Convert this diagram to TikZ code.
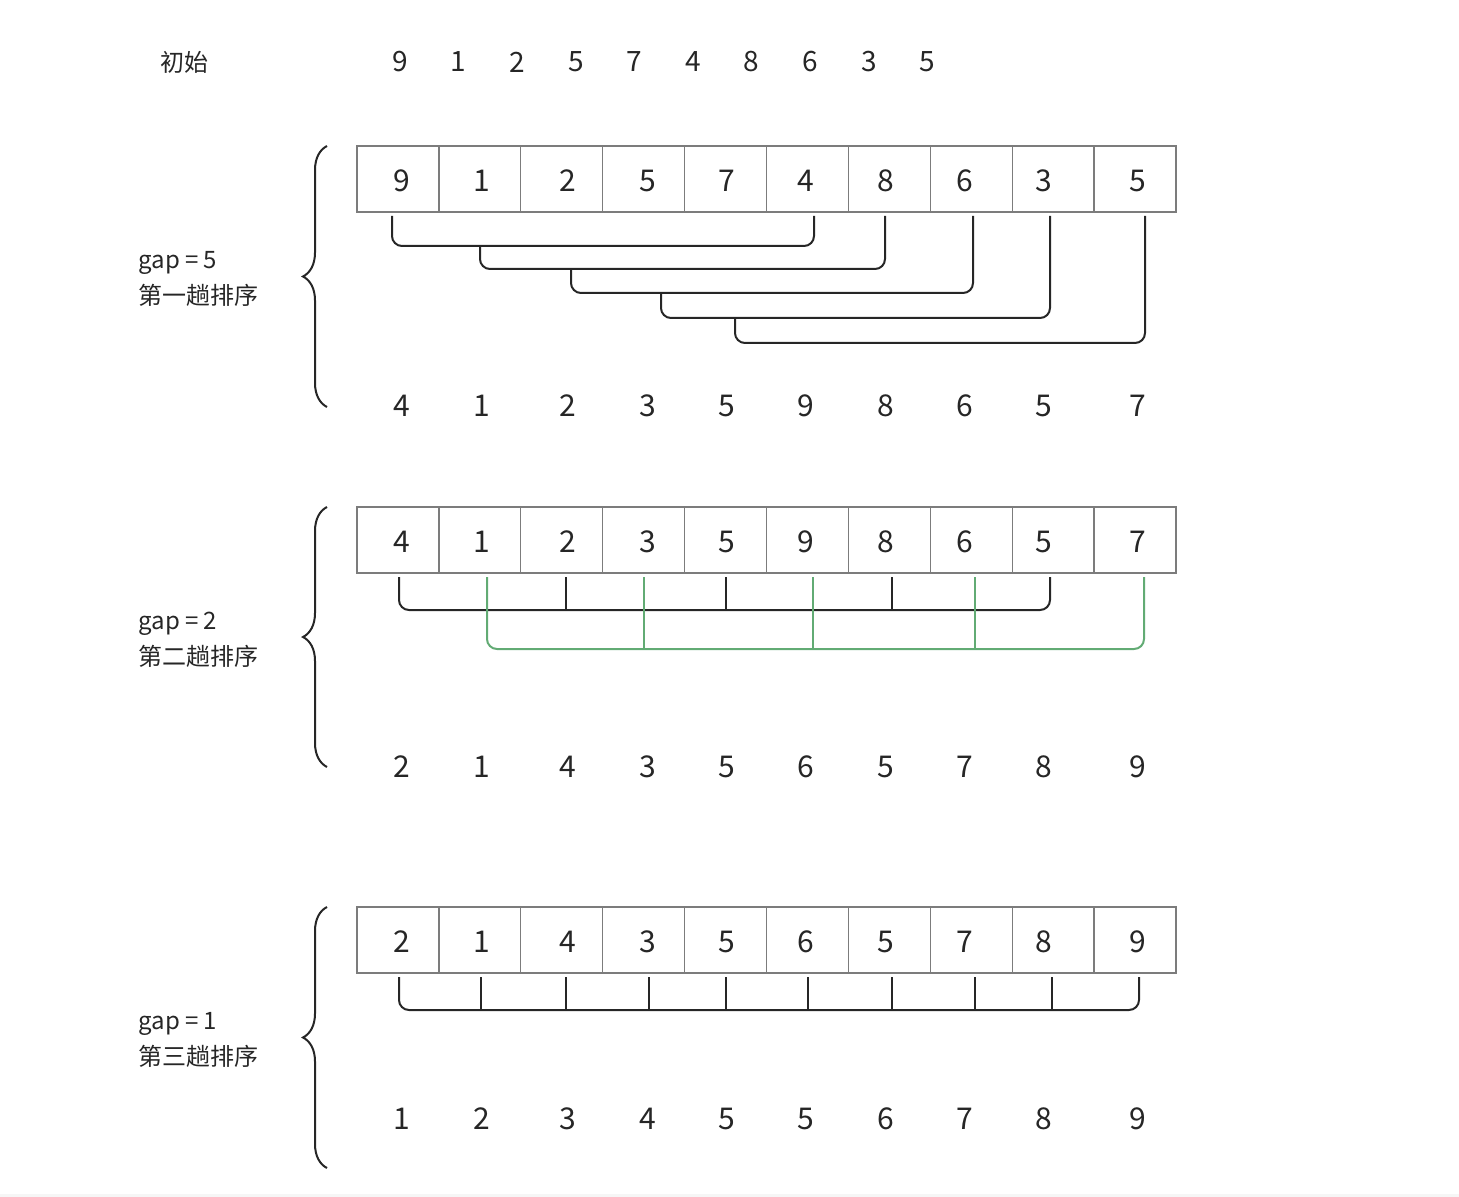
\documentclass[tikz,border=0pt]{standalone}
\usepackage{fontspec}
\setmainfont{Noto Sans CJK SC}
\usepackage{tikz}
\usetikzlibrary{decorations.pathreplacing,calc}
\definecolor{boxcol}{HTML}{7C7C7C}
\definecolor{inkcol}{HTML}{262626}
\definecolor{grncol}{HTML}{62AB74}
\definecolor{edgecol}{HTML}{F6F6F6}

\begin{document}
\begin{tikzpicture}[x=0.5pt,y=-0.5pt,
  cell/.style={draw=boxcol,line width=0.65pt},
  num/.style={font=\fontsize{15}{18}\selectfont,text=inkcol,inner sep=0pt},
  lbl/.style={font=\fontsize{12}{15}\selectfont,text=inkcol,anchor=west,inner sep=0pt},
  link/.style={draw=inkcol,line width=1pt,rounded corners=5pt},
  glink/.style={draw=grncol,line width=1pt,rounded corners=5pt},
  brc/.style={draw=inkcol,line width=1pt,decorate,decoration={brace,amplitude=12pt}}]
  \useasboundingbox (0,0) rectangle (1459,1197);
  \fill[edgecol] (0,1194) rectangle (1459,1197);

  % start row
  \node[lbl] (init) at (160,62) {初始};
  \foreach \v [count=\i] in {9,1,2,5,7,4,8,6,3,5}
    \node[num,font=\fontsize{14}{17}\selectfont] (t\i) at ({400+58.6*(\i-1)},62) {\v};

  % three boxes rows
  \foreach \y in {146,507,907}
    \foreach \i in {0,...,9}
      \draw[cell] ({357+81.9*\i},\y) rectangle +(81.9,66);

  % pass 1, gap = 5
  \node[lbl] (g1) at (138,263) {gap = 5};
  \node[lbl] (s1) at (138,295) {第一趟排序};
  \draw[brc] (327,407) -- (327,146);
  \foreach \x/\v [count=\i] in {402/9,482/1,568/2,648/5,727/7,806/4,886/8,965/6,1044/3,1138/5}
    \node[num] (a\i) at (\x,181) {\v};
  \foreach \x/\v [count=\i] in {402/4,482/1,568/2,648/3,727/5,806/9,886/8,965/6,1044/5,1138/7}
    \node[num] (ar\i) at (\x,406) {\v};
  \foreach \l/\t/\r/\y [count=\k] in {392/216/814/246,480/246/885/269,571/269/973/293,661/293/1050/318,735/318/1145/343}{
    \coordinate (p\k) at (\l,\t);
    \coordinate (q\k) at (\r,216);
    \draw[link] (p\k) |- (\r,\y) -- (q\k);
  }

  % pass 2, gap = 2
  \node[lbl] (g2) at (138,624) {gap = 2};
  \node[lbl] (s2) at (138,656) {第二趟排序};
  \draw[brc] (327,767) -- (327,507);
  \foreach \x/\v [count=\i] in {402/4,482/1,568/2,648/3,727/5,806/9,886/8,965/6,1044/5,1138/7}
    \node[num] (b\i) at (\x,542) {\v};
  \foreach \x/\v [count=\i] in {402/2,482/1,568/4,648/3,727/5,806/6,886/5,965/7,1044/8,1138/9}
    \node[num] (br\i) at (\x,767) {\v};
  \coordinate (bl) at (399,577);
  \coordinate (bk) at (1050,577);
  \draw[link] (bl) |- (1050,610) -- (bk);
  \foreach \x [count=\k] in {566,726,892}{
    \coordinate (bt\k) at (\x,577);
    \draw[link] (bt\k) -- (\x,610);
  }
  \coordinate (gl) at (487,577);
  \coordinate (gk) at (1144,577);
  \draw[glink] (gl) |- (1144,649) -- (gk);
  \foreach \x [count=\k] in {644,813,975}{
    \coordinate (gt\k) at (\x,577);
    \draw[glink] (gt\k) -- (\x,649);
  }

  % pass 3, gap = 1
  \node[lbl] (g3) at (138,1024) {gap = 1};
  \node[lbl] (s3) at (138,1056) {第三趟排序};
  \draw[brc] (327,1168) -- (327,907);
  \foreach \x/\v [count=\i] in {402/2,482/1,568/4,648/3,727/5,806/6,886/5,965/7,1044/8,1138/9}
    \node[num] (c\i) at (\x,942) {\v};
  \foreach \x/\v [count=\i] in {402/1,482/2,568/3,648/4,727/5,806/5,886/6,965/7,1044/8,1138/9}
    \node[num] (cr\i) at (\x,1119) {\v};
  \coordinate (cl) at (399,977);
  \coordinate (ck) at (1139,977);
  \draw[link] (cl) |- (1139,1010) -- (ck);
  \foreach \x [count=\k] in {481,566,649,726,808,892,975,1052}{
    \coordinate (ct\k) at (\x,977);
    \draw[link] (ct\k) -- (\x,1010);
  }
\end{tikzpicture}
\end{document}
